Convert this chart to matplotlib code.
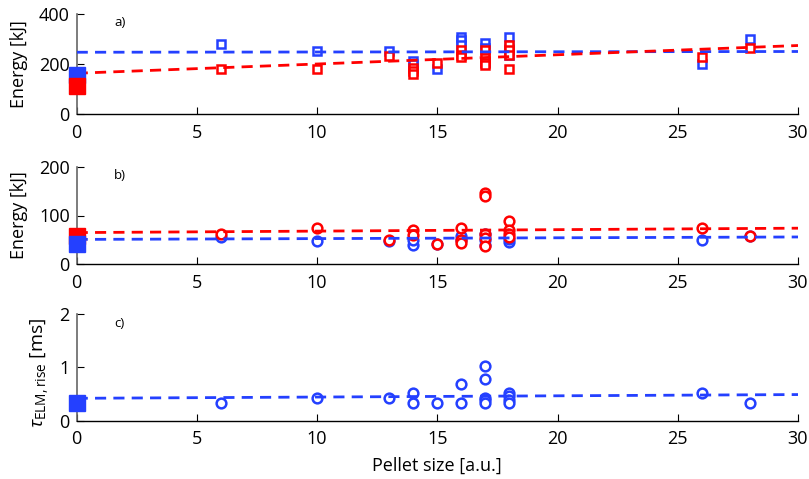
import matplotlib
matplotlib.use("Agg")
import matplotlib.pyplot as plt
import numpy as np

plt.rcParams['font.family'] = ['Open Sans', 'DejaVu Sans']
plt.rcParams['mathtext.fontset'] = 'custom'
plt.rcParams['mathtext.rm'] = 'Open Sans'
plt.rcParams['mathtext.it'] = 'Open Sans:italic'

BLUE = '#2440ff'
RED = '#ff0000'

# (a) energy, squares
a_blue_x = [6, 10, 13, 14, 14, 15, 16, 16, 16, 17, 17, 17, 18, 18, 18, 26, 28]
a_blue_y = [279, 253, 252, 213, 200, 180, 310, 295, 275, 283, 263, 209, 309, 263, 236, 200, 299]
a_red_x = [6, 10, 13, 14, 14, 14, 15, 16, 16, 16, 17, 17, 17, 17, 18, 18, 18, 18, 26, 28]
a_red_y = [180, 179, 232, 183, 173, 162, 203, 256, 236, 228, 256, 223, 203, 196, 276, 256, 236, 180, 229, 263]
a_ref_blue, a_ref_red = 156, 113
a_fit_blue = (247, 250)   # values at x=0 and x=30
a_fit_red = (163, 274)

# (b) energy, circles
b_blue_x = [6, 10, 13, 14, 14, 15, 16, 16, 17, 17, 17, 18, 18, 26, 28]
b_blue_y = [55, 48, 48, 40, 50, 42, 57, 50, 63, 50, 40, 46, 52, 50, 58]
b_red_x = [6, 10, 13, 14, 14, 15, 16, 16, 16, 17, 17, 17, 17, 17, 18, 18, 18, 18, 26, 28]
b_red_y = [63, 74, 50, 70, 60, 42, 75, 50, 43, 146, 139, 63, 53, 38, 89, 70, 62, 56, 74, 58]
b_ref_blue, b_ref_red = 42, 58
b_fit_blue = (51, 56)
b_fit_red = (65, 74)

# (c) ELM rise time, circles
c_x = [6, 10, 13, 14, 14, 15, 16, 16, 17, 17, 17, 17, 17, 18, 18, 18, 18, 26, 28]
c_y = [0.34, 0.42, 0.43, 0.52, 0.34, 0.34, 0.69, 0.34, 1.03, 0.78, 0.43, 0.39, 0.34, 0.52, 0.46, 0.39, 0.33, 0.51, 0.34]
c_ref = 0.34
c_fit = (0.42, 0.49)

x_ticks = [0, 5, 10, 15, 20, 25, 30]
fit_x = [0, 30]

W, H = 809, 479
fig = plt.figure(figsize=(W / 100, H / 100), dpi=100)


def make_ax(top, bottom):
    left, right = 76.7, 798
    return fig.add_axes([left / W, 1 - bottom / H, (right - left) / W, (bottom - top) / H])


axa = make_ax(14, 114)
axb = make_ax(166.7, 264.3)
axc = make_ax(314, 420.7)

dash = dict(ls=(0, (4, 2.6)), lw=2)
hollow = dict(ls='none', mfc='white', mew=1.8, zorder=3)

# panel a
axa.plot(a_blue_x, a_blue_y, 's', mec=BLUE, ms=6, **hollow)
axa.plot(a_red_x, a_red_y, 's', mec=RED, ms=6, **hollow)
axa.plot(fit_x, a_fit_blue, color=BLUE, zorder=4, **dash)
axa.plot(fit_x, a_fit_red, color=RED, zorder=4, **dash)
axa.plot([0], [a_ref_blue], 's', color=BLUE, ms=11, clip_on=False, zorder=5)
axa.plot([0], [a_ref_red], 's', color=RED, ms=11, clip_on=False, zorder=5)
axa.set_ylim(0, 400)
axa.set_yticks([0, 200, 400])
axa.set_ylabel('Energy [kJ]')

# panel b
axb.plot(b_blue_x, b_blue_y, 'o', mec=BLUE, ms=7, **hollow)
axb.plot(b_red_x, b_red_y, 'o', mec=RED, ms=7, **hollow)
axb.plot(fit_x, b_fit_red, color=RED, zorder=4, **dash)
axb.plot(fit_x, b_fit_blue, color=BLUE, zorder=4, **dash)
axb.plot([0], [b_ref_red], 's', color=RED, ms=11, clip_on=False, zorder=5)
axb.plot([0], [b_ref_blue], 's', color=BLUE, ms=11, clip_on=False, zorder=5)
axb.set_ylim(0, 200)
axb.set_yticks([0, 100, 200])
axb.set_ylabel('Energy [kJ]')

# panel c
axc.plot(c_x, c_y, 'o', mec=BLUE, ms=7, **hollow)
axc.plot(fit_x, c_fit, color=BLUE, zorder=4, **dash)
axc.plot([0], [c_ref], 's', color=BLUE, ms=11, clip_on=False, zorder=5)
axc.set_ylim(0, 2)
axc.set_yticks([0, 1, 2])
axc.set_ylabel(r'$\tau_{\mathrm{ELM,rise}}$ [ms]')
axc.set_xlabel('Pellet size [a.u.]', fontsize=13, labelpad=6)

for ax, lab in zip((axa, axb, axc), ('a)', 'b)', 'c)')):
    ax.set_xlim(0, 30)
    ax.set_xticks(x_ticks)
    ax.spines['top'].set_visible(False)
    ax.spines['right'].set_visible(False)
    ax.spines['left'].set_color('#666666')
    ax.spines['left'].set_linewidth(1.2)
    ax.spines['bottom'].set_linewidth(1.0)
    ax.tick_params(direction='in', length=5, labelsize=13)
    ax.tick_params(axis='x', pad=7)
    ax.tick_params(axis='y', pad=5)
    ax.yaxis.label.set_size(13)
    ax.text(0.052, 0.975, lab, transform=ax.transAxes, fontsize=9.5, va='top', ha='left')
    ax.set_facecolor('none')

axc.yaxis.label.set_size(14)
axa.yaxis.set_label_coords(-0.067, 0.5)
axb.yaxis.set_label_coords(-0.067, 0.5)
axc.yaxis.set_label_coords(-0.036, 0.45)

fig.savefig('out.png', dpi=100)
